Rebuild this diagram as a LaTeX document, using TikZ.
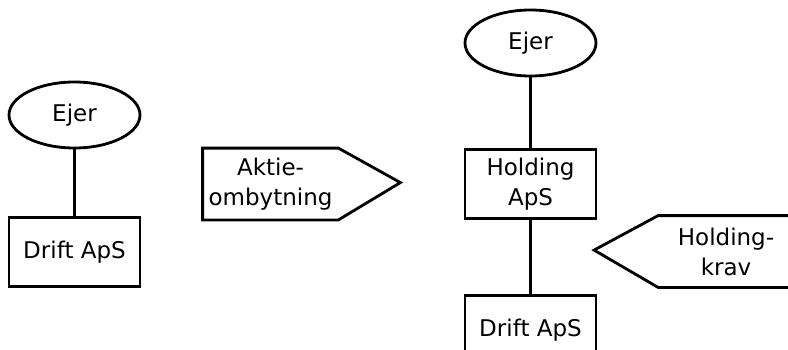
\documentclass[tikz,border=0pt]{standalone}
\usepackage{fontspec}
\setmainfont{DejaVu Sans}
\usetikzlibrary{shapes.geometric}

\begin{document}
\begin{tikzpicture}[x=1pt, y=1pt, line width=2.8pt,
        every node/.style={font=\fontsize{23}{30}\selectfont},
        ejer/.style={draw, ellipse, minimum width=131pt, minimum height=66pt, inner sep=0pt},
        firma/.style={draw, rectangle, minimum width=131pt, minimum height=69pt, align=center, inner sep=0pt},
        skilt/.style={rectangle, minimum width=133pt, minimum height=69pt, align=center, inner sep=0pt}]

            \useasboundingbox (0,0) rectangle (788,349);

            % foer
            \node[ejer] (ejerL) at (74.5,234) {Ejer};
            \node[firma] (driftL) at (74.5,97) {Drift ApS};
            \draw (ejerL) -- (driftL);

            % aktieombytning
            \node[skilt] (aktie) at (270.5,165) {Aktie-\\ombytning};
            \draw[line join=miter] (aktie.north west) -- (aktie.north east) -- ++(62,-34.5)
                -- (aktie.south east) -- (aktie.south west) -- cycle;

            % efter
            \node[ejer] (ejerR) at (530.5,306) {Ejer};
            \node[firma] (holdR) at (530.5,165) {Holding\\ApS};
            \node[firma] (driftR) at (530.5,19) {Drift ApS};
            \draw (ejerR) -- (holdR);
            \draw (holdR) -- (driftR);

            % holdingkrav
            \node[skilt] (krav) at (726,97.5) {Holding-\\krav};
            \draw[line join=miter] (krav.north east) -- (krav.north west) -- ++(-64,-34.5)
                -- (krav.south west) -- (krav.south east) -- cycle;

        \end{tikzpicture}
\end{document}
